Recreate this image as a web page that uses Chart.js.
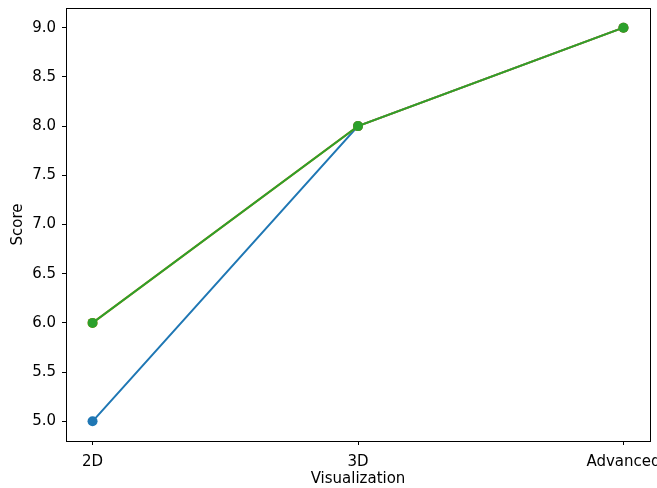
<!DOCTYPE html>
<html>
<head>
<meta charset="utf-8">
<script src="https://cdn.jsdelivr.net/npm/chart.js@4/dist/chart.umd.min.js"></script>
<style>
  html, body { margin: 0; padding: 0; background: #fff; }
  #wrap { width: 657px; height: 488px; }
</style>
</head>
<body>
<div id="wrap"><canvas id="chart" width="657" height="488"></canvas></div>
<script>
const categories = ["2D", "3D", "Advanced"];
const blueScores = [5, 8, 9];
const orangeScores = [6, 8, 9];
const greenScores = [6, 8, 9];
const yTicks = [5.0, 5.5, 6.0, 6.5, 7.0, 7.5, 8.0, 8.5, 9.0];

const fontFamily = "'DejaVu Sans', sans-serif";

function toPoints(values) {
  return values.map((v, i) => ({ x: i, y: v }));
}

function series(label, values, color, order) {
  return {
    label: label,
    data: toPoints(values),
    order: order,
    borderColor: color,
    backgroundColor: color,
    borderWidth: 2,
    pointRadius: 5,
    pointHoverRadius: 5,
    pointBorderWidth: 0,
    tension: 0,
  };
}

// top and right spines
const frame = {
  id: "frame",
  afterDraw(chart) {
    const { ctx, chartArea: a } = chart;
    ctx.save();
    ctx.strokeStyle = "#000";
    ctx.lineWidth = 1;
    ctx.strokeRect(Math.round(a.left) + 0.5, Math.round(a.top) + 0.5,
      Math.round(a.right - a.left), Math.round(a.bottom - a.top));
    ctx.restore();
  },
};

new Chart(document.getElementById("chart").getContext("2d"), {
  type: "line",
  data: {
    datasets: [
      series("Blue", blueScores, "#1f77b4", 3),
      series("Orange", orangeScores, "#ff7f0e", 2),
      series("Green", greenScores, "#2ca02c", 1),
    ],
  },
  options: {
    responsive: false,
    animation: false,
    layout: { padding: { top: 8, right: 7, left: 0, bottom: 0 } },
    plugins: { legend: { display: false }, tooltip: { enabled: false } },
    scales: {
      x: {
        type: "linear",
        min: -0.1,
        max: 2.1,
        afterBuildTicks(scale) {
          scale.ticks = categories.map((c, i) => ({ value: i }));
        },
        afterFit(scale) {
          scale.height = 47;
          scale.paddingLeft = 0;
          scale.paddingRight = 0;
        },
        grid: { drawOnChartArea: false, drawTicks: true, tickLength: 4, color: "#000" },
        border: { display: true, color: "#000", width: 1 },
        ticks: {
          color: "#000",
          font: { family: fontFamily, size: 15 },
          padding: 8,
          autoSkip: false,
          maxRotation: 0,
          callback: (v) => categories[v],
        },
        title: {
          display: true,
          text: "Visualization",
          color: "#000",
          font: { family: fontFamily, size: 15 },
          padding: { top: 0, bottom: 0 },
        },
      },
      y: {
        min: 4.8,
        max: 9.2,
        afterBuildTicks(scale) {
          scale.ticks = yTicks.map((v) => ({ value: v }));
        },
        afterFit(scale) {
          scale.width = 66;
          scale.paddingTop = 0;
          scale.paddingBottom = 0;
        },
        grid: { drawOnChartArea: false, drawTicks: true, tickLength: 4, color: "#000" },
        border: { display: true, color: "#000", width: 1 },
        ticks: {
          color: "#000",
          font: { family: fontFamily, size: 15 },
          padding: 6,
          callback: (v) => v.toFixed(1),
        },
        title: {
          display: true,
          text: "Score",
          color: "#000",
          font: { family: fontFamily, size: 15 },
          padding: { top: 9, bottom: 4 },
        },
      },
    },
  },
  plugins: [frame],
});
</script>
</body>
</html>
